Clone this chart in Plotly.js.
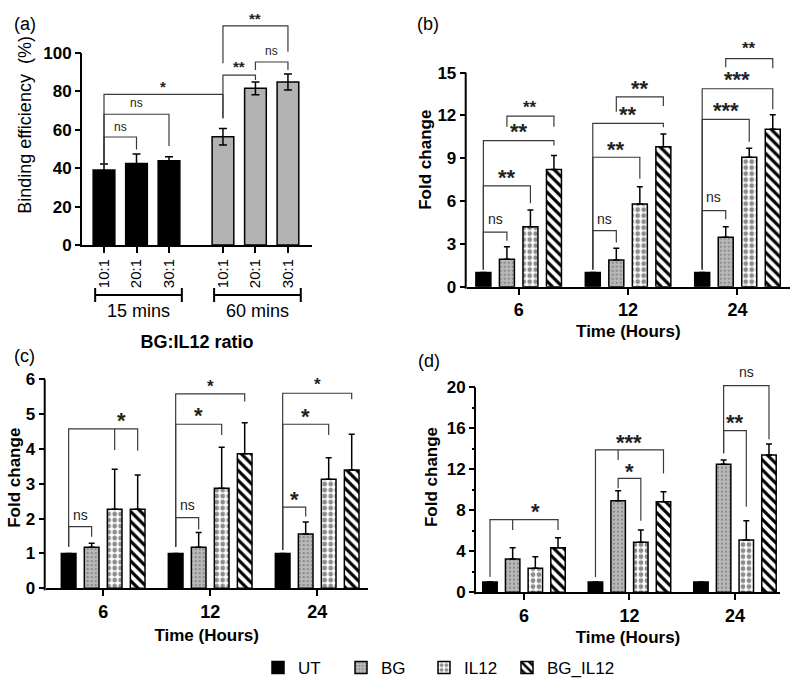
<!DOCTYPE html>
<html><head><meta charset="utf-8">
<script src="https://cdn.plot.ly/plotly-3.0.1.min.js"></script>
<style>html,body{margin:0;padding:0;background:#fff}#chart{width:800px;height:691px}</style>
</head><body><div id="chart"></div>
<script>
// ---------------- data ----------------
const ratioLabels = ['10:1', '20:1', '30:1'];
const incubationLabels = ['15 mins', '60 mins'];
const bind15 = [39.1, 42.4, 43.9];
const bind15Err = [3.1, 5.0, 2.1];
const bind60 = [56.4, 81.6, 84.9];
const bind60Err = [4.3, 3.3, 4.2];

const timeLabels = ['6', '12', '24'];
const seriesNames = ['UT', 'BG', 'IL12', 'BG_IL12'];

// panel (b)
const bUT = [1, 1, 1];
const bBG = [1.92, 1.87, 3.46];
const bIL12 = [4.2, 5.8, 9.07];
const bBGIL12 = [8.22, 9.81, 11.03];
const bUTErr = [0, 0, 0];
const bBGErr = [0.88, 0.82, 0.74];
const bIL12Err = [1.17, 1.2, 0.63];
const bBGIL12Err = [0.98, 0.89, 1.02];

// panel (c)
const cUT = [1, 1, 1];
const cBG = [1.18, 1.18, 1.56];
const cIL12 = [2.27, 2.87, 3.13];
const cBGIL12 = [2.27, 3.86, 3.4];
const cUTErr = [0, 0, 0];
const cBGErr = [0.11, 0.42, 0.34];
const cIL12Err = [1.15, 1.18, 0.62];
const cBGIL12Err = [0.98, 0.89, 1.02];

// panel (d)
const dUT = [1, 1, 1];
const dBG = [3.25, 8.94, 12.5];
const dIL12 = [2.34, 4.88, 5.1];
const dBGIL12 = [4.35, 8.84, 13.4];
const dUTErr = [0, 0, 0];
const dBGErr = [1.1, 0.96, 0.4];
const dIL12Err = [1.13, 1.2, 1.89];
const dBGIL12Err = [0.98, 0.97, 1.07];

// significance comparisons (bar indices; bracket heights in axis units)
const sigA = [
  {from: 0, to: [1], y: 56.25, legs: [42.5, 49.8], label: 'ns', ly: 61.6},
  {from: 0, to: [2], y: 68.1, legs: [42.5, 51.6], label: 'ns', ly: 74.1},
  {from: 0, to: [3], y: 78.5, legs: [42.5, 66], label: '*', ly: 84.5},
  {from: 3, to: [4], y: 88.5, legs: [66, 85.9], label: '**', ly: 94.6},
  {from: 4, to: [5], y: 95.3, legs: [91.1, 91.1], label: 'ns', ly: 101.2},
  {from: 3, to: [5], y: 114.1, legs: [94.6, 100.7], label: '**', ly: 119.8}
];
const sigB = [
  {g: 0, from: 0, to: [1], y: 3.83, legs: [1.2, 3.22], label: 'ns', ly: 4.77},
  {g: 0, from: 0, to: [2], y: 7.06, legs: [1.2, 5.85], label: '**', ly: 8.0, big: true},
  {g: 0, from: 0, to: [3], y: 10.23, legs: [1.2, 9.9], label: '**', ly: 11.2, big: true},
  {g: 0, from: 1, to: [3], y: 11.96, legs: [11.2, 11.2], label: '**', ly: 12.85},
  {g: 1, from: 0, to: [1], y: 3.93, legs: [1.2, 3.1], label: 'ns', ly: 4.77},
  {g: 1, from: 0, to: [2], y: 9.07, legs: [1.2, 7.57], label: '**', ly: 9.93, big: true},
  {g: 1, from: 0, to: [3], y: 11.45, legs: [1.2, 11.17], label: '**', ly: 12.43, big: true},
  {g: 1, from: 1, to: [3], y: 13.3, legs: [12.26, 12.66], label: '**', ly: 14.25, big: true},
  {g: 2, from: 0, to: [1], y: 5.33, legs: [1.2, 4.72], label: 'ns', ly: 6.26},
  {g: 2, from: 0, to: [2], y: 11.73, legs: [1.2, 10.16], label: '***', ly: 12.66, big: true},
  {g: 2, from: 0, to: [3], y: 13.87, legs: [1.2, 12.43], label: '***', ly: 14.83, big: true},
  {g: 2, from: 1, to: [3], y: 15.98, legs: [15.38, 15.3], label: '**', ly: 16.94}
];
const sigC = [
  {g: 0, from: 0, to: [1], y: 1.77, legs: [1.19, 1.48], label: 'ns', ly: 2.11},
  {g: 0, from: 0, to: [2, 3], y: 4.58, legs: [1.19, 3.97, 3.95], label: '*', ly: 4.95, big: true, lAt: 2.3},
  {g: 1, from: 0, to: [1], y: 2.03, legs: [1.19, 1.69], label: 'ns', ly: 2.39},
  {g: 1, from: 0, to: [2], y: 4.71, legs: [1.19, 4.4], label: '*', ly: 5.1, big: true},
  {g: 1, from: 0, to: [3], y: 5.58, legs: [1.19, 5.36], label: '*', ly: 5.9},
  {g: 2, from: 0, to: [1], y: 2.33, legs: [1.1, 2.06], label: '*', ly: 2.68, big: true},
  {g: 2, from: 0, to: [2], y: 4.71, legs: [1.1, 4.4], label: '*', ly: 5.07, big: true},
  {g: 2, from: 0, to: [3], y: 5.6, legs: [1.1, 5.43], label: '*', ly: 5.95}
];
const sigD = [
  {g: 0, from: 0, to: [1, 3], y: 7.09, legs: [1.5, 6.08, 6.08], label: '*', ly: 8.35, big: true, lAt: 2.0},
  {g: 1, from: 0, to: [1, 3], y: 13.9, legs: [1.5, 12.9, 11.6], label: '***', ly: 15.08, big: true},
  {g: 1, from: 1, to: [2], y: 11.12, legs: [10.15, 6.99], label: '*', ly: 12.3, big: true},
  {g: 2, from: 1, to: [3], y: 20.16, legs: [13.56, 14.93], label: 'ns', ly: 21.5},
  {g: 2, from: 1, to: [2], y: 15.77, legs: [13.56, 8.35], label: '**', ly: 17.04, big: true}
];

// ---------------- layout geometry ----------------
const W = 800, H = 691;
const FONT = 'Liberation Sans, Arial, Helvetica, sans-serif';
const px2x = p => p / W;
const py2y = p => 1 - p / H;
const panels = {
  a: {xa: 'x',  ya: 'y',  left: 82,    right: 312,   base: 245,   ppu: 1.92,  top: 125,  xr: [-0.677, 6.4]},
  b: {xa: 'x2', ya: 'y2', left: 466.7, right: 790,   base: 286.7, ppu: 14.27, top: 17.8, xr: [-0.475, 2.48]},
  c: {xa: 'x3', ya: 'y3', left: 45.7,  right: 367.7, base: 588.3, ppu: 34.83, top: 6.35, xr: [-0.537, 2.472]},
  d: {xa: 'x4', ya: 'y4', left: 476,   right: 780,   base: 592.3, ppu: 10.25, top: 22.5, xr: [-0.455, 2.427]}
};
const SLOT = 0.215, BW = 0.137;   // bar slot and width (category units)
const A_SHIFT = 3.66, A_BW = 0.667;
const barX = (g, k) => g + (k - 1.5) * SLOT;
const aX = i => (i < 3 ? i : i - 3 + A_SHIFT);

const styles = [
  {color: 'black', line: {color: 'black', width: 1.5}},
  {color: '#b8b8b8', line: {color: 'black', width: 1.5},
   pattern: {shape: '.', bgcolor: '#b8b8b8', fgcolor: '#7c7c7c', size: 4, solidity: 0.2}},
  {color: 'white', line: {color: 'black', width: 1.5},
   pattern: {shape: '.', bgcolor: 'white', fgcolor: '#8c8c8c', size: 6, solidity: 0.5}},
  {color: 'white', line: {color: 'black', width: 1.5},
   pattern: {shape: '\\', bgcolor: 'white', fgcolor: 'black', size: 7, solidity: 0.45}}
];

const traces = [];
// panel (a)
[[bind15, bind15Err, 'black'], [bind60, bind60Err, '#b3b3b3']].forEach((s, gi) => {
  traces.push({
    type: 'bar', name: incubationLabels[gi],
    x: ratioLabels.map((_, i) => aX(i + 3 * gi)), y: s[0], width: A_BW,
    marker: {color: s[2], line: {color: 'black', width: 1.5}},
    error_y: {type: 'data', array: s[1], visible: true, color: 'black', thickness: 1.5, width: 4},
    xaxis: 'x', yaxis: 'y', showlegend: false, hoverinfo: 'y'
  });
});
// panels (b)-(d)
const panelData = {
  b: [[bUT, bUTErr], [bBG, bBGErr], [bIL12, bIL12Err], [bBGIL12, bBGIL12Err]],
  c: [[cUT, cUTErr], [cBG, cBGErr], [cIL12, cIL12Err], [cBGIL12, cBGIL12Err]],
  d: [[dUT, dUTErr], [dBG, dBGErr], [dIL12, dIL12Err], [dBGIL12, dBGIL12Err]]
};
Object.keys(panelData).forEach(p => {
  panelData[p].forEach((s, k) => {
    const tr = {
      type: 'bar', name: seriesNames[k], legendgroup: seriesNames[k],
      x: timeLabels.map((_, i) => i), y: s[0],
      width: BW, offset: (k - 1.5) * SLOT - BW / 2,
      marker: styles[k],
      error_y: {type: 'data', array: s[1], arrayminus: s[1].map(() => 0), symmetric: false,
                visible: true, color: 'black', thickness: 1.5, width: 3},
      xaxis: panels[p].xa, yaxis: panels[p].ya, showlegend: p === 'b', hoverinfo: 'y'
    };
    if (k === seriesNames.length - 1) tr.legendwidth = 80;
    traces.push(tr);
  });
});

const shapes = [], annotations = [];
const LINE = {color: '#3a3a3a', width: 1.2};
function addSig(list, panel, xpos) {
  const P = panels[panel];
  list.forEach(s => {
    const xf = xpos(s, s.from);
    const xs = s.to.map(t => xpos(s, t));
    const xl = xs[xs.length - 1];
    let path = `M${xf},${s.legs[0]} L${xf},${s.y} L${xl},${s.y} L${xl},${s.legs[s.legs.length - 1]}`;
    for (let i = 0; i < xs.length - 1; i++) path += ` M${xs[i]},${s.y} L${xs[i]},${s.legs[i + 1]}`;
    shapes.push({type: 'path', path, xref: P.xa, yref: P.ya, line: LINE});
    const isStar = s.label.indexOf('*') >= 0;
    const fs = panel === 'a' ? (isStar ? 15 : 12) : (isStar ? (s.big ? 22 : 17) : 14);
    const lx = s.lAt !== undefined ? xpos(s, s.lAt) : (xf + xl) / 2;
    annotations.push({
      xref: P.xa, yref: P.ya, x: lx, y: s.ly, text: s.label, showarrow: false,
      xanchor: 'center', yanchor: 'middle', yshift: isStar ? -0.22 * fs : 0,
      font: {family: FONT, size: fs, color: '#222', weight: isStar ? 700 : 400}
    });
  });
}
addSig(sigA, 'a', (s, i) => aX(i));
addSig(sigB, 'b', (s, k) => barX(s.g, k));
addSig(sigC, 'c', (s, k) => barX(s.g, k));
addSig(sigD, 'd', (s, k) => barX(s.g, k));

// y-axis lines (only up to the last tick, GraphPad style)
const yLineTop = {a: 100, b: 15, c: 6, d: 20};
Object.keys(panels).forEach(p => {
  const P = panels[p];
  shapes.push({type: 'line', xref: 'paper', yref: 'paper',
    x0: px2x(P.left - 1), x1: px2x(P.left - 1),
    y0: py2y(P.base + 2), y1: py2y(P.base - yLineTop[p] * P.ppu),
    line: {color: 'black', width: 2}});
});

// incubation-time group brackets under panel (a)
const A = panels.a;
const aPx = v => A.left + (v - A.xr[0]) / (A.xr[1] - A.xr[0]) * (A.right - A.left);
incubationLabels.forEach((lab, gi) => {
  const l = aPx(aX(3 * gi) - A_BW / 2) + 2, r = aPx(aX(3 * gi + 2) + A_BW / 2) + 2;
  const yb = 295;
  shapes.push({type: 'path', xref: 'paper', yref: 'paper', line: {color: 'black', width: 2},
    path: `M${px2x(l)},${py2y(yb - 7)} L${px2x(l)},${py2y(yb + 7)} M${px2x(l)},${py2y(yb)} L${px2x(r)},${py2y(yb)} M${px2x(r)},${py2y(yb - 7)} L${px2x(r)},${py2y(yb + 7)}`});
  annotations.push({xref: 'paper', yref: 'paper', x: px2x((l + r) / 2), y: py2y(311), text: lab,
    showarrow: false, xanchor: 'center', yanchor: 'middle', font: {family: FONT, size: 18, color: 'black'}});
});

// panel letters
[['(a)', 12, 24], ['(b)', 415, 24], ['(c)', 12, 356], ['(d)', 416, 361]].forEach(t => {
  annotations.push({xref: 'paper', yref: 'paper', x: px2x(t[1]), y: py2y(t[2]), text: t[0],
    showarrow: false, xanchor: 'left', yanchor: 'middle', font: {family: FONT, size: 18, color: 'black'}});
});

function xAxis(p, extra) {
  const P = panels[p];
  return Object.assign({
    domain: [px2x(P.left), px2x(P.right)], range: P.xr, anchor: P.ya,
    showline: true, linewidth: 2, linecolor: 'black', showgrid: false, zeroline: false,
    ticks: 'outside', ticklen: 6, tickwidth: 2, tickcolor: 'black',
    tickmode: 'array', tickvals: timeLabels.map((_, i) => i), ticktext: timeLabels,
    tickfont: {family: FONT, size: 18, color: 'black', weight: 700},
    fixedrange: true
  }, extra);
}
function yAxis(p, tickvals, extra) {
  const P = panels[p];
  return Object.assign({
    domain: [py2y(P.base), py2y(P.base - P.top * P.ppu)], range: [0, P.top], anchor: P.xa,
    showline: false, showgrid: false, zeroline: false,
    ticks: 'outside', ticklen: 6, tickwidth: 2, tickcolor: 'black',
    tickmode: 'array', tickvals: tickvals,
    tickfont: {family: FONT, size: 17, color: 'black', weight: 700},
    fixedrange: true
  }, extra);
}
const fcTitle = so => ({text: 'Fold change', standoff: so, font: {family: FONT, size: 17, color: 'black', weight: 700}});
const timeTitle = so => ({text: 'Time (Hours)', standoff: so, font: {family: FONT, size: 17, color: 'black', weight: 700}});

const layout = {
  width: W, height: H, margin: {l: 0, r: 0, t: 0, b: 0},
  paper_bgcolor: 'white', plot_bgcolor: 'rgba(0,0,0,0)',
  barmode: 'overlay', font: {family: FONT, color: 'black'},
  xaxis: xAxis('a', {
    tickvals: ratioLabels.map((_, i) => aX(i)).concat(ratioLabels.map((_, i) => aX(i + 3))),
    ticktext: ratioLabels.concat(ratioLabels), tickangle: -90,
    tickfont: {family: FONT, size: 15, color: 'black'},
    title: {text: 'BG:IL12 ratio', standoff: 48, font: {family: FONT, size: 18, color: 'black', weight: 700}}
  }),
  yaxis: yAxis('a', [0, 20, 40, 60, 80, 100], {
    title: {text: 'Binding efficiency  (%)', standoff: 6, font: {family: FONT, size: 18, color: 'black'}}
  }),
  xaxis2: xAxis('b', {title: timeTitle(6)}),
  yaxis2: yAxis('b', [0, 3, 6, 9, 12, 15], {title: fcTitle(1)}),
  xaxis3: xAxis('c', {title: timeTitle(8)}),
  yaxis3: yAxis('c', [0, 1, 2, 3, 4, 5, 6], {title: fcTitle(0)}),
  xaxis4: xAxis('d', {title: timeTitle(6)}),
  yaxis4: yAxis('d', [0, 4, 8, 12, 16, 20], {
    title: fcTitle(4),
    minor: {tickmode: 'array', tickvals: [2, 6, 10, 14, 18], ticks: 'outside', ticklen: 3, tickwidth: 2, tickcolor: 'black', showgrid: false}
  }),
  showlegend: true,
  legend: {orientation: 'h', x: px2x(258), y: py2y(668), xanchor: 'left', yanchor: 'middle',
    entrywidth: 38, entrywidthmode: 'pixels', font: {family: FONT, size: 17, color: 'black'},
    bgcolor: 'rgba(0,0,0,0)', traceorder: 'normal'},
  shapes, annotations
};

Plotly.newPlot('chart', traces, layout, {displayModeBar: false, staticPlot: true});
</script>
</body></html>
